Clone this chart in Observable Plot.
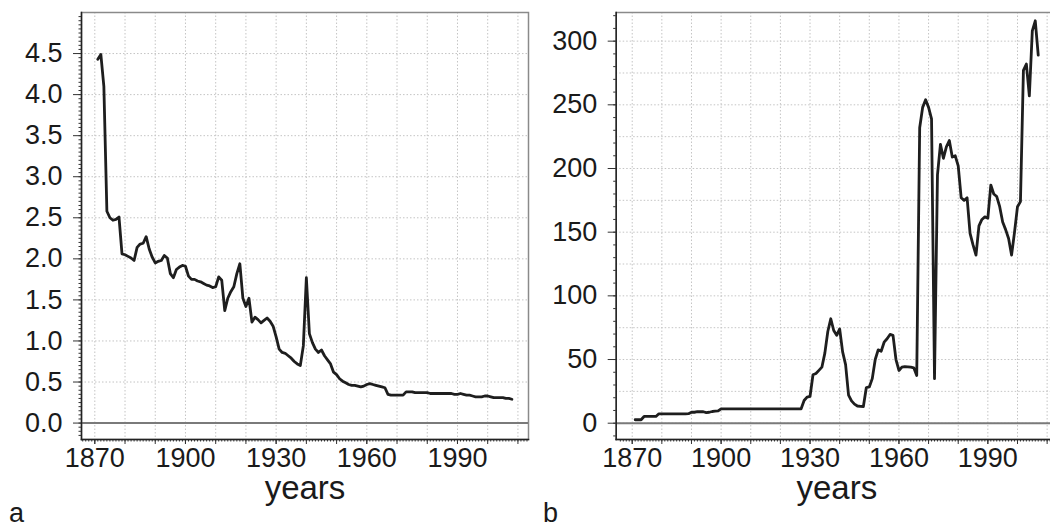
<!DOCTYPE html>
<html><head><meta charset="utf-8">
<script src="https://cdn.jsdelivr.net/npm/d3@7"></script>
<script src="https://cdn.jsdelivr.net/npm/@observablehq/plot@0.6"></script>
<style>
html,body{margin:0;padding:0;background:#fff;overflow:hidden;width:1050px;height:526px}
#wrap{position:relative;width:1050px;height:526px;font-family:"Liberation Sans",Arial,sans-serif;color:#1a1a1a}
#pa{position:absolute;left:0;top:0;width:545px;height:526px;overflow:hidden}
#pb{position:absolute;left:545px;top:0;width:505px;height:526px;overflow:hidden}
#pa svg,#pb svg{max-width:none !important}
.tag{position:absolute;font-size:27px;line-height:22px;top:502px}
</style></head><body>
<div id="wrap">
  <div id="pa"></div>
  <div id="pb"></div>
  <div class="tag" style="left:9px">a</div>
  <div class="tag" style="left:543px">b</div>
</div>
<script>
// ---- data ----
const yearsA = d3.range(1871, 2009);
const valuesA = [
  4.43, 4.49, 4.10, 2.58, 2.50, 2.47, 2.48, 2.51, 2.06, 2.05,
  2.03, 2.01, 1.98, 2.14, 2.18, 2.19, 2.27, 2.12, 2.02, 1.95,
  1.97, 1.98, 2.04, 2.01, 1.82, 1.77, 1.87, 1.90, 1.92, 1.91,
  1.79, 1.75, 1.75, 1.73, 1.72, 1.70, 1.68, 1.67, 1.65, 1.66,
  1.78, 1.74, 1.37, 1.52, 1.60, 1.66, 1.82, 1.94, 1.52, 1.42,
  1.52, 1.23, 1.29, 1.26, 1.22, 1.25, 1.28, 1.24, 1.18, 1.05,
  0.90, 0.86, 0.85, 0.82, 0.79, 0.75, 0.72, 0.70, 0.94, 1.77,
  1.09, 0.98, 0.90, 0.86, 0.89, 0.82, 0.77, 0.72, 0.62, 0.59,
  0.54, 0.51, 0.49, 0.47, 0.46, 0.46, 0.45, 0.44, 0.45, 0.47,
  0.48, 0.47, 0.46, 0.45, 0.44, 0.43, 0.35, 0.34, 0.34, 0.34,
  0.34, 0.34, 0.38, 0.38, 0.38, 0.37, 0.37, 0.37, 0.37, 0.37,
  0.36, 0.36, 0.36, 0.36, 0.36, 0.36, 0.36, 0.36, 0.35, 0.35,
  0.36, 0.35, 0.34, 0.34, 0.33, 0.32, 0.32, 0.32, 0.33, 0.33,
  0.32, 0.31, 0.31, 0.31, 0.31, 0.30, 0.30, 0.29
];
const yearsB = d3.range(1871, 2008);
const valuesB = [
  2.7, 2.7, 2.7, 5.3, 5.3, 5.3, 5.3, 5.3, 7.4, 7.4,
  7.4, 7.4, 7.4, 7.4, 7.4, 7.4, 7.4, 7.4, 7.5, 8.6,
  8.6, 9.0, 9.0, 9.0, 8.3, 8.6, 9.2, 9.4, 9.6, 11.3,
  11.3, 11.3, 11.3, 11.3, 11.3, 11.3, 11.3, 11.3, 11.3, 11.3,
  11.3, 11.3, 11.3, 11.3, 11.3, 11.3, 11.3, 11.3, 11.3, 11.3,
  11.3, 11.3, 11.3, 11.3, 11.3, 11.3, 11.3, 17.8, 20.5, 21.0,
  38, 39, 41.5, 44, 55, 72, 82, 72.8, 69, 74,
  56, 46, 22, 17.5, 15, 13.5, 13.2, 13.1, 28, 28.5,
  35, 50, 57.6, 56.5, 63.6, 66.3, 69.7, 69, 50, 41.4,
  44, 44.5, 44.3, 44, 43.5, 37.5, 232, 248, 254, 248,
  239, 35, 195, 219, 208, 217, 222, 209, 210, 202,
  177, 175, 177, 149, 140, 132, 155, 160, 162, 161,
  187, 180, 178, 170, 158, 152, 145, 132, 150, 170,
  174, 277, 282, 257, 308, 316, 289
];
const xTickLabels = [1870, 1900, 1930, 1960, 1990];
const xGridYears = d3.range(1870, 2011, 10);
const xMinorYears = d3.range(1866, 2014, 1);
const yTicksA = [0, 0.5, 1, 1.5, 2, 2.5, 3, 3.5, 4, 4.5];
const yTicksB = [0, 50, 100, 150, 200, 250, 300];
const yGridB = d3.range(0, 301, 25);
const yMinorA = d3.range(-0.15, 5.0, 0.05).map(v => Math.round(v * 100) / 100);
const yMinorB = d3.range(-10, 321, 10);

const FONT = "Liberation Sans, Arial, Helvetica, sans-serif";

function panel({years, values, xDomain, yDomain, yTicks, yGrid, yMinor, yFormat, width, marginLeft, marginRight}) {
  const data = years.map((yr, i) => ({year: yr, value: values[i]}));
  const grid = {stroke: "#c4c4c4", strokeOpacity: 1, strokeWidth: 1, strokeDasharray: "1.5,2"};
  return Plot.plot({
    width, height: 500,
    marginLeft, marginRight, marginTop: 12, marginBottom: 61,
    style: {fontFamily: FONT, fontSize: "27px", color: "#1a1a1a", background: "#fff", overflow: "visible", maxWidth: "none"},
    x: {domain: xDomain},
    y: {domain: yDomain},
    marks: [
      Plot.gridX(xGridYears, grid),
      Plot.gridY(yGrid, grid),
      Plot.frame({stroke: "#8a8a8a", strokeWidth: 1.5}),
      Plot.ruleY([0], {stroke: "#7a7a7a", strokeWidth: 2}),
      Plot.line(data, {x: "year", y: "value", stroke: "#1e1e1e", strokeWidth: 2.8}),
      Plot.axisY({ticks: yMinor, tickSize: 2.5, tickFormat: () => "", label: null, stroke: "#333"}),
      Plot.axisY({ticks: yTicks, tickSize: 8, tickPadding: 11, tickFormat: yFormat, label: null, stroke: "#333", fontSize: 27, fill: "#1a1a1a"}),
      Plot.axisX({ticks: xMinorYears.filter(v => v >= xDomain[0] && v <= xDomain[1]), tickSize: 2.5, tickFormat: () => "", label: null, stroke: "#333"}),
      Plot.axisX({ticks: xGridYears, tickSize: 5, tickFormat: () => "", label: null, stroke: "#333"}),
      Plot.axisX({ticks: xTickLabels, tickSize: 5, tickPadding: 3, tickFormat: d => String(d), label: null, stroke: "#333", fontSize: 27, fill: "#1a1a1a"}),
      Plot.text(["years"], {frameAnchor: "bottom", dy: 49, fontSize: 33, fill: "#1a1a1a", lineAnchor: "middle"}),
      Plot.frame({anchor: "left", stroke: "#222", strokeWidth: 1.5}),
      Plot.frame({anchor: "bottom", stroke: "#222", strokeWidth: 1.5})
    ]
  });
}

document.getElementById("pa").append(panel({
  years: yearsA, values: valuesA,
  xDomain: [1865.6, 2013.5], yDomain: [-0.2, 5.0],
  yTicks: yTicksA, yGrid: yTicksA, yMinor: yMinorA, yFormat: d3.format(".1f"),
  width: 545, marginLeft: 81, marginRight: 17
}));
document.getElementById("pb").append(panel({
  years: yearsB, values: valuesB,
  xDomain: [1864.6, 2013.5], yDomain: [-12.8, 322.5],
  yTicks: yTicksB, yGrid: yGridB, yMinor: yMinorB, yFormat: d => String(d),
  width: 512, marginLeft: 70.7, marginRight: 0
}));
</script>
</body></html>
